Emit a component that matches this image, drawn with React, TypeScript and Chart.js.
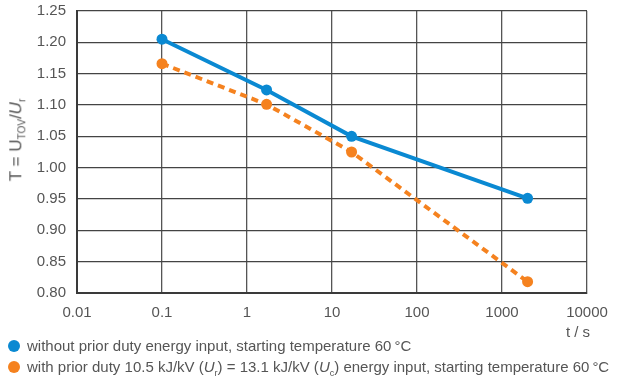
import React, { useEffect, useRef } from "react";
import { Chart, registerables } from "chart.js";

Chart.register(...registerables);

const timeValues = [0.1, 1.7, 17, 2000];
const withoutPriorDuty = [1.205, 1.124, 1.05, 0.951];
const withPriorDuty = [1.166, 1.101, 1.025, 0.818];
const xTickValues = [0.01, 0.1, 1, 10, 100, 1000, 10000];
const xTickLabels = ["0.01", "0.1", "1", "10", "100", "1000", "10000"];
const yTickValues = [0.8, 0.85, 0.9, 0.95, 1.0, 1.05, 1.1, 1.15, 1.2, 1.25];

const BLUE = "#0a89d2";
const ORANGE = "#f5821f";
const TEXT = "#555";
const FONT = "'Liberation Sans', Arial, sans-serif";

export default function App() {
  const ref = useRef<HTMLCanvasElement | null>(null);

  useEffect(() => {
    document.body.style.margin = "0";
    const ctx = ref.current!;
    const chart = new Chart(ctx, {
      type: "line",
      data: {
        datasets: [
          {
            label: "without prior duty energy input, starting temperature 60 °C",
            data: timeValues.map((x, i) => ({ x, y: withoutPriorDuty[i] })),
            borderColor: BLUE,
            backgroundColor: BLUE,
            borderWidth: 4,
            pointRadius: 5.5,
            pointBorderWidth: 0,
            tension: 0,
          },
          {
            label: "with prior duty",
            data: timeValues.map((x, i) => ({ x, y: withPriorDuty[i] })),
            borderColor: ORANGE,
            backgroundColor: ORANGE,
            borderWidth: 4,
            borderDash: [7, 5],
            pointRadius: 5.5,
            pointBorderWidth: 0,
            tension: 0,
          },
        ],
      },
      options: {
        animation: false,
        responsive: false,
        maintainAspectRatio: false,
        layout: { padding: { left: 0, right: 34, top: 11, bottom: 56 } },
        plugins: { legend: { display: false }, tooltip: { enabled: false } },
        scales: {
          x: {
            type: "logarithmic",
            min: 0.01,
            max: 10000,
            afterBuildTicks: (axis: any) => {
              axis.ticks = xTickValues.map((v) => ({ value: v }));
            },
            afterFit: (s: any) => {
              s.height = 30;
              s.paddingLeft = 0;
              s.paddingRight = 0;
            },
            ticks: {
              autoSkip: false,
              maxRotation: 0,
              padding: 11,
              color: TEXT,
              font: { family: FONT, size: 15 },
              callback: (v: any) => {
                const i = xTickValues.findIndex((t) => Math.abs(t - v) < t * 1e-6);
                return i >= 0 ? xTickLabels[i] : "";
              },
            },
            grid: { color: "#555", lineWidth: 1.3, drawTicks: false },
            border: { color: "#3a3a3a", width: 2 },
          },
          y: {
            min: 0.8,
            max: 1.25,
            afterBuildTicks: (axis: any) => {
              axis.ticks = yTickValues.map((v) => ({ value: v }));
            },
            afterFit: (s: any) => {
              s.width = 77;
              s.paddingTop = 0;
              s.paddingBottom = 0;
            },
            ticks: {
              padding: 11,
              color: TEXT,
              font: { family: FONT, size: 15 },
              callback: (v: any) => Number(v).toFixed(2),
            },
            grid: { color: "#444", lineWidth: 1.3, drawTicks: false },
            border: { color: "#3a3a3a", width: 2 },
          },
        },
      },
    });
    return () => chart.destroy();
  }, []);

  const dot = (c: string) => ({
    display: "inline-block",
    width: 12,
    height: 12,
    borderRadius: "50%",
    background: c,
    position: "absolute" as const,
    left: 8,
    top: 4,
  });

  const rowStyle = {
    position: "absolute" as const,
    left: 0,
    whiteSpace: "nowrap" as const,
    fontFamily: FONT,
    fontSize: 15,
    color: TEXT,
    paddingLeft: 27,
    lineHeight: "20px",
  };

  return (
    <div style={{ position: "relative", width: 621, height: 379, background: "#fff", overflow: "hidden" }}>
      <canvas ref={ref} width={621} height={379} style={{ position: "absolute", left: 0, top: 0, width: 621, height: 379 }} />
      <div
        style={{
          position: "absolute",
          left: 17,
          top: 140,
          transform: "translate(-50%, -50%) rotate(-90deg)",
          whiteSpace: "nowrap",
          fontFamily: FONT,
          fontSize: 17,
          color: TEXT,
        }}
      >
        T = U<sub style={{ fontSize: 10 }}>TOV</sub>/<i>U</i>
        <sub style={{ fontSize: 10 }}>r</sub>
      </div>
      <div
        style={{
          position: "absolute",
          left: 578,
          top: 331,
          transform: "translate(-50%, -50%)",
          whiteSpace: "nowrap",
          fontFamily: FONT,
          fontSize: 15,
          color: TEXT,
        }}
      >
        t / s
      </div>
      <div style={{ ...rowStyle, top: 336 }}>
        <span style={dot(BLUE)} />
        without prior duty energy input, starting temperature 60{"\u2009"}°C
      </div>
      <div style={{ ...rowStyle, top: 357 }}>
        <span style={dot(ORANGE)} />
        with prior duty 10.5 kJ/kV (<i>U</i>
        <sub style={{ fontSize: 9 }}>r</sub>) = 13.1 kJ/kV (<i>U</i>
        <sub style={{ fontSize: 9 }}>c</sub>) energy input, starting temperature 60{"\u2009"}°C
      </div>
    </div>
  );
}
